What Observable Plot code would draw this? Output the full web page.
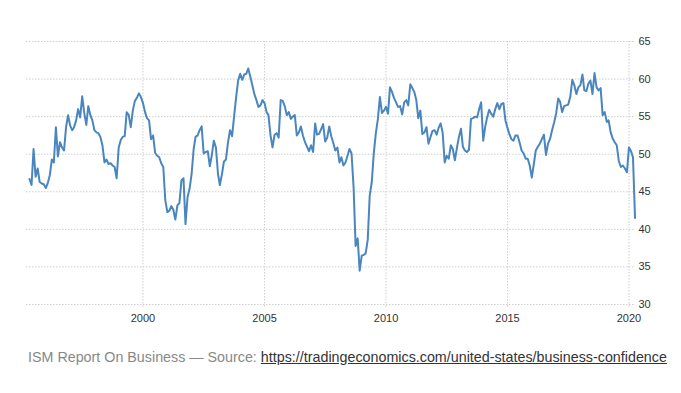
<!DOCTYPE html>
<html>
<head>
<meta charset="utf-8">
<script src="https://cdn.jsdelivr.net/npm/d3@7"></script>
<script src="https://cdn.jsdelivr.net/npm/@observablehq/plot@0.6"></script>
<style>
  body { margin: 0; background: #fff; }
  #chart svg { display: block; }
  .caption { font-family: "Liberation Sans", Arial, sans-serif; font-size: 14.3px; color: #888; margin: 19px 0 0 28px; white-space: nowrap; }
  .caption a { color: #333; text-decoration: underline; }
</style>
</head>
<body>
<div id="chart"></div>
<div class="caption">ISM Report On Business — Source: <a href="https://tradingeconomics.com/united-states/business-confidence">https://tradingeconomics.com/united-states/business-confidence</a></div>
<script>
// Monthly ISM Manufacturing PMI, May 1995 .. Apr 2020
const firstYear = 1995, firstMonth = 5; // May 1995
const pmi = [
  /*1995*/ 46.7, 45.9, 50.7, 47.0, 48.1, 46.3, 46.1, 46.0,
  /*1996*/ 45.5, 46.2, 47.2, 49.3, 48.9, 53.6, 49.7, 51.6, 50.9, 50.5, 53.6, 55.2,
  /*1997*/ 53.8, 53.2, 53.6, 54.5, 56.0, 54.9, 57.7, 55.5, 53.9, 56.4, 55.2, 54.5,
  /*1998*/ 53.2, 52.9, 52.8, 52.3, 51.2, 48.9, 49.3, 48.7, 48.8, 48.5, 48.3, 46.8,
  /*1999*/ 50.9, 51.9, 52.3, 52.4, 55.6, 55.2, 53.6, 55.8, 57.1, 57.5, 58.1, 57.6,
  /*2000*/ 56.8, 55.6, 54.8, 54.5, 52.0, 52.5, 50.2, 49.8, 49.6, 48.8, 48.3, 43.9,
  /*2001*/ 42.3, 42.5, 43.1, 42.6, 41.3, 43.2, 43.5, 46.5, 46.8, 40.7, 44.3, 45.4,
  /*2002*/ 47.4, 50.7, 52.3, 52.5, 53.2, 53.7, 50.1, 50.3, 50.4, 48.4, 49.9, 51.8,
  /*2003*/ 50.9, 47.4, 45.9, 47.3, 49.0, 49.3, 51.5, 53.2, 52.4, 55.0, 57.6, 59.8,
  /*2004*/ 60.7, 59.9, 60.6, 60.7, 61.4, 60.3, 59.2, 58.0, 57.2, 56.3, 56.5, 57.2,
  /*2005*/ 56.8, 55.6, 55.2, 52.5, 50.9, 52.6, 52.8, 52.2, 57.2, 57.1, 56.4, 55.2,
  /*2006*/ 55.6, 54.7, 55.0, 55.2, 52.5, 52.9, 53.7, 52.5, 51.6, 51.0, 50.4, 51.2,
  /*2007*/ 50.3, 54.1, 52.6, 52.7, 53.3, 54.0, 51.7, 52.2, 53.7, 52.4, 51.5, 50.5,
  /*2008*/ 50.9, 48.9, 49.6, 48.5, 48.9, 49.8, 50.7, 50.1, 45.5, 37.8, 38.8, 34.5,
  /*2009*/ 36.5, 36.6, 36.8, 38.6, 44.5, 46.3, 50.1, 52.8, 54.7, 57.6, 55.5, 55.8,
  /*2010*/ 56.3, 55.4, 58.9, 58.3, 57.5, 56.9, 56.3, 56.4, 55.3, 56.9, 57.2, 56.5,
  /*2011*/ 59.3, 58.8, 58.3, 57.2, 54.8, 55.8, 52.7, 52.9, 53.6, 51.4, 52.3, 53.1,
  /*2012*/ 53.2, 52.6, 53.5, 54.1, 52.9, 48.9, 49.8, 49.4, 51.2, 50.7, 49.2, 50.8,
  /*2013*/ 52.3, 53.4, 51.0, 50.5, 50.3, 50.6, 54.7, 54.8, 55.0, 54.9, 56.0, 56.9,
  /*2014*/ 51.8, 53.7, 54.9, 55.9, 55.4, 55.0, 56.0, 56.8, 56.0, 56.7, 56.8, 54.5,
  /*2015*/ 53.5, 52.6, 52.0, 51.8, 52.5, 52.5, 51.6, 50.5, 50.1, 49.4, 49.4, 48.5,
  /*2016*/ 46.9, 48.7, 50.5, 51.0, 51.4, 52.0, 52.6, 49.9, 51.4, 52.0, 53.2, 54.2,
  /*2017*/ 55.4, 57.4, 57.0, 55.6, 56.4, 56.5, 56.6, 57.6, 59.9, 59.2, 58.0, 58.9,
  /*2018*/ 59.2, 60.6, 58.5, 58.4, 59.4, 59.8, 58.0, 60.8, 58.9, 58.5, 58.8, 55.2,
  /*2019*/ 55.6, 54.3, 54.5, 52.9, 52.1, 51.6, 51.2, 49.1, 48.3, 48.5, 48.1, 47.6,
  /*2020*/ 50.9, 50.4, 49.6, 41.5
];
const yTicks = [30, 35, 40, 45, 50, 55, 60, 65];
const xTickYears = [2000, 2005, 2010, 2015, 2020];

const data = pmi.map((v, i) => ({
  date: new Date(Date.UTC(firstYear, firstMonth - 1 + i, 1)),
  value: v
}));
const xTicks = xTickYears.map(y => new Date(Date.UTC(y, 0, 1)));

const gridStyle = { stroke: "#cfcfcf", strokeWidth: 1, strokeDasharray: "1.5,1.5" };

const chart = Plot.plot({
  width: 681,
  height: 330,
  marginTop: 41,
  marginBottom: 26,
  marginLeft: 26,
  marginRight: 47,
  style: { fontFamily: "'Liberation Sans', Arial, sans-serif", fontSize: "11px", color: "#333", background: "#fff" },
  x: {
    type: "utc",
    domain: [new Date(Date.UTC(1995, 2, 17)), new Date(Date.UTC(2020, 2, 24))],
    ticks: xTicks,
    tickFormat: d3.utcFormat("%Y"),
    tickSize: 0,
    tickPadding: 10,
    label: null
  },
  y: {
    domain: [30, 65],
    ticks: yTicks,
    axis: "right",
    tickSize: 0,
    tickPadding: 4,
    label: null
  },
  marks: [
    Plot.ruleY(yTicks, gridStyle),
    Plot.ruleX(xTicks, { ...gridStyle, insetBottom: -3 }),
    Plot.lineY(data, { x: "date", y: "value", stroke: "#4a86bd", strokeWidth: 2, clip: false })
  ]
});
document.getElementById("chart").appendChild(chart);
</script>
</body>
</html>
